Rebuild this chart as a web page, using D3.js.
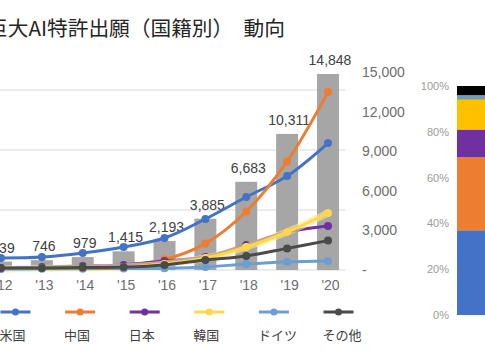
<!DOCTYPE html>
<html><head><meta charset="utf-8">
<script src="https://cdn.jsdelivr.net/npm/d3@7"></script>
<style>
html,body{margin:0;padding:0;background:#fff;overflow:hidden;}
svg{display:block;}
</style>
</head><body>
<svg id="c" width="485" height="360"></svg>
<script>
const title = "巨大AI特許出願（国籍別）　動向";
const years = ["'12","'13","'14","'15","'16","'17","'18","'19","'20"];
const totals = [639, 746, 979, 1415, 2193, 3885, 6683, 10311, 14848];
const seriesNames = ["米国","中国","日本","韓国","ドイツ","その他"];
const usVals      = [400, 433, 567, 767, 1067, 1700, 2433, 3133, 4233];
const chinaVals   = [67, 67, 100, 150, 350, 880, 1950, 3620, 5930];
const japanVals   = [60, 100, 130, 170, 300, 433, 833, 1267, 1467];
const koreaVals   = [30, 60, 70, 100, 200, 400, 767, 1267, 1900];
const germanyVals = [30, 40, 40, 50, 60, 100, 200, 270, 300];
const otherVals   = [67, 70, 80, 100, 170, 333, 470, 720, 980];
const rightTicks = [0, 3000, 6000, 9000, 12000, 15000];
const leftGrid = [0, 2000, 4000, 6000];
const shareVals = [37, 32, 12, 13, 2, 4]; // US, China, Japan, Korea, Germany, Other (%)
const pctTicks = [0, 20, 40, 60, 80, 100];

const lineColors = ["#4472C4","#ED7D31","#7030A0","#FFD84A","#6A9FD4","#4A4A4A"];
const stackColors = ["#4472C4","#ED7D31","#7030A0","#FFC000","#6E9BB8","#000000"];
const seriesVals = [usVals, chinaVals, japanVals, koreaVals, germanyVals, otherVals];

const svg = d3.select("#c");
const latin = "'Liberation Sans', Arial, sans-serif";
const cjk = "'Noto Sans CJK JP', sans-serif";

// title
svg.append("text").attr("x", -13).attr("y", 36)
  .attr("font-family", cjk).attr("font-size", 20.7).attr("fill", "#262626")
  .text(title);

const x = d3.scalePoint().domain(years).range([1, 328]);
const yBar = d3.scaleLinear().domain([0, 15000]).range([270, 72]);
const yLine = d3.scaleLinear().domain([0, 6000]).range([270, 90]);

// gridlines
svg.append("g").selectAll("line").data(leftGrid).join("line")
  .attr("x1", 0).attr("x2", 345)
  .attr("y1", d => yLine(d)).attr("y2", d => yLine(d))
  .attr("stroke", "#d9d9d9").attr("stroke-width", 1.2);

// bars
const bw = 22;
svg.append("g").selectAll("rect").data(totals).join("rect")
  .attr("x", (d, i) => x(years[i]) - bw / 2)
  .attr("y", d => yBar(d))
  .attr("width", bw)
  .attr("height", d => yBar(0) - yBar(d))
  .attr("fill", "#a6a6a6");

// bar labels
svg.append("g").selectAll("text").data(totals).join("text")
  .attr("x", (d, i) => x(years[i]) + 2)
  .attr("y", d => yBar(d) - 9)
  .attr("text-anchor", "middle")
  .attr("font-family", latin).attr("font-size", 14).attr("fill", "#404040")
  .text(d => d3.format(",")(d));

// lines
const line = d3.line()
  .x((d, i) => x(years[i]))
  .y(d => yLine(d))
  .curve(d3.curveCatmullRom);

seriesVals.forEach((vals, s) => {
  const g = svg.append("g");
  if (s === 3) {
    g.append("path").attr("d", line(vals)).attr("fill", "none")
      .attr("stroke", "#FFE98A").attr("stroke-width", 7).attr("stroke-opacity", 0.6);
  }
  g.append("path").attr("d", line(vals)).attr("fill", "none")
    .attr("stroke", lineColors[s]).attr("stroke-width", 3);
  g.selectAll("circle").data(vals).join("circle")
    .attr("cx", (d, i) => x(years[i])).attr("cy", d => yLine(d))
    .attr("r", 4).attr("fill", lineColors[s]);
});

// right axis
const axR = d3.axisRight(yBar).tickValues(rightTicks)
  .tickSize(0).tickPadding(0)
  .tickFormat(d => d === 0 ? "-" : d3.format(",")(d));
const gR = svg.append("g").attr("transform", "translate(362,0)").call(axR);
gR.select(".domain").remove();
gR.selectAll("text").attr("font-family", latin).attr("font-size", 14).attr("fill", "#6d6d6d");

// x axis
const axB = d3.axisBottom(x).tickSize(0).tickPadding(0);
const gB = svg.append("g").attr("transform", "translate(2,280)").call(axB);
gB.select(".domain").remove();
gB.selectAll("text").attr("font-family", latin).attr("font-size", 14).attr("fill", "#6d6d6d");

// legend
const lg = svg.append("g");
seriesNames.forEach((name, s) => {
  const cx = 15.5 + s * 64.6;
  lg.append("line").attr("x1", cx - 15).attr("x2", cx + 15)
    .attr("y1", 312).attr("y2", 312)
    .attr("stroke", lineColors[s]).attr("stroke-width", 3);
  lg.append("circle").attr("cx", cx).attr("cy", 312).attr("r", 3.5).attr("fill", lineColors[s]);
  lg.append("text").attr("x", cx - 16).attr("y", 340)
    .attr("font-family", cjk).attr("font-size", 13).attr("fill", "#404040")
    .text(name);
});

// right share panel
const yP = d3.scaleLinear().domain([0, 100]).range([315, 86]);
const axP = d3.axisLeft(yP).tickValues(pctTicks).tickSize(0).tickPadding(0)
  .tickFormat(d => d + "%");
const gP = svg.append("g").attr("transform", "translate(449,0)").call(axP);
gP.select(".domain").remove();
gP.selectAll("text").attr("font-family", latin).attr("font-size", 11).attr("fill", "#9a9a9a");

let cum = 0;
const stackData = shareVals.map((v, i) => { const o = {y0: cum, y1: cum + v, i}; cum += v; return o; });
svg.append("g").selectAll("rect").data(stackData).join("rect")
  .attr("x", 457).attr("width", 40)
  .attr("y", d => yP(d.y1))
  .attr("height", d => yP(d.y0) - yP(d.y1))
  .attr("fill", d => stackColors[d.i]);
</script>
</body></html>
